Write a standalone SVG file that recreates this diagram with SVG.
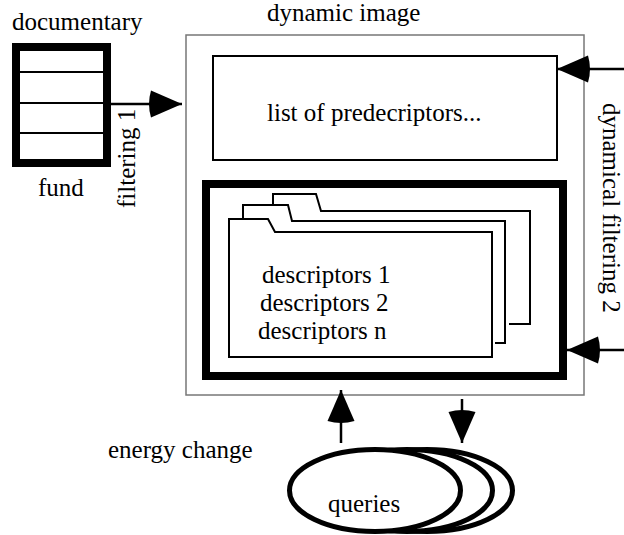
<svg xmlns="http://www.w3.org/2000/svg" width="624" height="535" viewBox="0 0 624 535">
  <style>
    text { font-family: "Liberation Serif", "Times New Roman", serif; font-size: 25px; fill: #000; }
    .thin { fill: none; stroke: #000; stroke-width: 2; }
    .thick { fill: #fff; stroke: #000; stroke-width: 8; }
    .frame { fill: #fff; stroke: #777; stroke-width: 1.5; }
    .ell { fill: #fff; stroke: #000; stroke-width: 5; }
    .conn { fill: none; stroke: #000; stroke-width: 2.5; marker-end: url(#ah); }
  </style>
  <defs>
    <marker id="ah" markerUnits="userSpaceOnUse" markerWidth="40" markerHeight="32" viewBox="-36 -16 40 32" refX="0" refY="0" orient="auto">
      <path d="M0,0 L-31,-13.5 Q-35,0 -31,13.5 Z" fill="#000"/>
    </marker>
  </defs>
  <rect width="624" height="535" fill="#fff"/>

  <g id="documentary-fund">
    <rect class="thick" x="16" y="47" width="91" height="116"/>
    <line class="thin" x1="20" y1="72" x2="103" y2="72"/>
    <line class="thin" x1="20" y1="103" x2="103" y2="103"/>
    <line class="thin" x1="20" y1="133" x2="103" y2="133"/>
    <text x="12" y="30">documentary</text>
    <text x="38" y="196">fund</text>
  </g>

  <g id="dynamic-image">
    <rect class="frame" x="186" y="35" width="398" height="360"/>
    <text x="267" y="21">dynamic image</text>
  </g>

  <g id="predescriptors">
    <rect class="thin" x="213" y="56" width="344" height="104"/>
    <text x="267" y="121">list of predecriptors...</text>
  </g>

  <g id="descriptors">
    <rect class="thick" x="206" y="184" width="357" height="192"/>
    <path class="thin" d="M273,205 L273,194 L316,194 L321,211 L530,211 L530,324 L509,324"/>
    <path class="thin" d="M243,219 L243,205 L288,205 L292,221 L505,221 L505,343 L495,343"/>
    <path class="thin" d="M229,357 L229,219 L268,219 L275,232 L492,232 L492,357 Z"/>
    <text x="262" y="283">descriptors 1</text>
    <text x="260" y="311">descriptors 2</text>
    <text x="258" y="339">descriptors n</text>
  </g>

  <g id="queries">
    <ellipse class="ell" cx="427" cy="490.5" rx="85.5" ry="41"/>
    <ellipse class="ell" cx="407" cy="490.5" rx="85.5" ry="41"/>
    <ellipse class="ell" cx="375" cy="490.5" rx="85.5" ry="41"/>
    <text x="328" y="512">queries</text>
  </g>

  <g id="connectors">
    <line class="conn" x1="111" y1="104" x2="182" y2="104"/>
    <line class="conn" x1="624" y1="69" x2="557" y2="69"/>
    <line class="conn" x1="624" y1="350" x2="567" y2="350"/>
    <line class="conn" x1="341" y1="443" x2="341" y2="390"/>
    <line class="conn" x1="462" y1="399" x2="462" y2="443"/>
  </g>

  <g id="labels">
    <text transform="translate(135,208) rotate(-90)">filtering 1</text>
    <text transform="translate(603,103) rotate(90)">dynamical filtering 2</text>
    <text x="108" y="458">energy change</text>
  </g>
</svg>
